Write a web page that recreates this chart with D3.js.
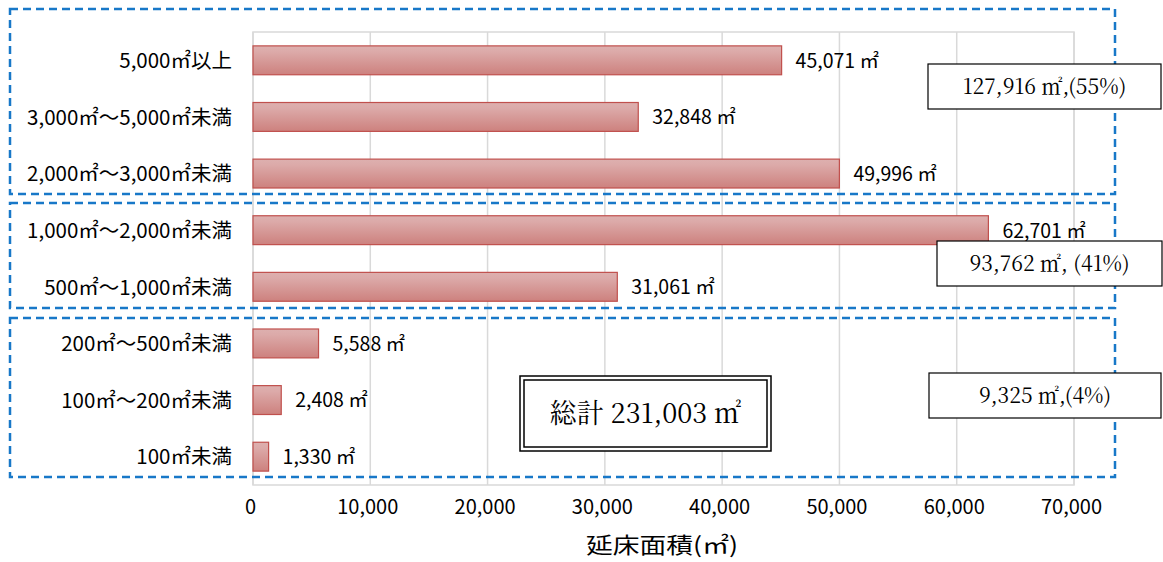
<!DOCTYPE html>
<html>
<head>
<meta charset="utf-8">
<script src="https://cdn.jsdelivr.net/npm/d3@7"></script>
<style>
  html, body { margin: 0; padding: 0; background: #fff; }
  svg { display: block; }
</style>
</head>
<body>
<svg id="chart" width="1163" height="562"></svg>
<script>
// Floor-area categories (largest size class first) and their total floor area in ㎡
const categories = [
  "5,000㎡以上",
  "3,000㎡～5,000㎡未満",
  "2,000㎡～3,000㎡未満",
  "1,000㎡～2,000㎡未満",
  "500㎡～1,000㎡未満",
  "200㎡～500㎡未満",
  "100㎡～200㎡未満",
  "100㎡未満"
];
const values = [45071, 32848, 49996, 62701, 31061, 5588, 2408, 1330];

// Axis ticks
const xTicks = [0, 10000, 20000, 30000, 40000, 50000, 60000, 70000];
const xTitle = "延床面積(㎡)";

// Size-class groups: first / last category index and the subtotal label
const groupFirst = [0, 3, 5];
const groupLast = [2, 4, 7];
const groupLabels = ["127,916 ㎡,(55%)", "93,762 ㎡, (41%)", "9,325 ㎡,(4%)"];
const totalLabel = "総計 231,003 ㎡";

const svg = d3.select("#chart");
const plot = { left: 253, right: 1074, top: 32, bottom: 485 };

const x = d3.scaleLinear().domain([0, 70000]).range([plot.left, plot.right]);
const y = d3.scaleBand().domain(categories).range([plot.top, plot.bottom]).paddingInner(0.49).paddingOuter(0.245);

const sansJP = "'Noto Sans CJK JP', 'Noto Sans', sans-serif";
const serif = "'Noto Serif CJK JP', 'Liberation Serif', serif";

// Bar gradient
const defs = svg.append("defs");
const grad = defs.append("linearGradient").attr("id", "barFill").attr("x1", 0).attr("y1", 0).attr("x2", 0).attr("y2", 1);
grad.append("stop").attr("offset", "0%").attr("stop-color", "#ddb0af");
grad.append("stop").attr("offset", "20%").attr("stop-color", "#dcaaa9");
grad.append("stop").attr("offset", "100%").attr("stop-color", "#cd817e");

// Gridlines and plot frame
const grid = svg.append("g");
grid.selectAll("line.grid").data(xTicks).join("line")
  .attr("x1", d => x(d)).attr("x2", d => x(d))
  .attr("y1", plot.top).attr("y2", plot.bottom)
  .attr("stroke", "#d9d9d9").attr("stroke-width", 1.5);
grid.append("rect")
  .attr("x", plot.left).attr("y", plot.top)
  .attr("width", plot.right - plot.left).attr("height", plot.bottom - plot.top)
  .attr("fill", "none").attr("stroke", "#d9d9d9").attr("stroke-width", 1.5);

// Bars
svg.append("g").selectAll("rect").data(values).join("rect")
  .attr("x", x(0))
  .attr("y", (d, i) => y(categories[i]))
  .attr("width", d => x(d) - x(0))
  .attr("height", y.bandwidth())
  .attr("fill", "url(#barFill)")
  .attr("stroke", "#c0504d").attr("stroke-width", 1.2);

// Value labels
svg.append("g").selectAll("text").data(values).join("text")
  .attr("x", d => x(d) + 14)
  .attr("y", (d, i) => y(categories[i]) + y.bandwidth() / 2)
  .attr("dy", "0.38em")
  .attr("font-family", sansJP).attr("font-size", 19.5).attr("fill", "#000")
  .text(d => d3.format(",")(d) + " ㎡");

// Category labels
svg.append("g").selectAll("text").data(categories).join("text")
  .attr("x", 232)
  .attr("y", d => y(d) + y.bandwidth() / 2)
  .attr("dy", "0.38em")
  .attr("text-anchor", "end")
  .attr("font-family", sansJP).attr("font-size", 20.5).attr("fill", "#000")
  .text(d => d);

// X axis tick labels (no axis line)
const xAxis = d3.axisBottom(x).tickValues(xTicks).tickFormat(d3.format(",")).tickSize(0).tickPadding(0);
const ax = svg.append("g").attr("transform", `translate(-3,${plot.bottom + 15})`).call(xAxis);
ax.select(".domain").remove();
ax.selectAll("text")
  .attr("font-family", sansJP)
  .attr("font-size", 20).attr("fill", "#000");

svg.append("text")
  .attr("x", 662).attr("y", 553)
  .attr("text-anchor", "middle")
  .attr("font-family", sansJP).attr("font-size", 22).attr("font-weight", 400)
  .attr("textLength", 152).attr("lengthAdjust", "spacingAndGlyphs")
  .text(xTitle);

// Dashed group frames
const frameTop = [9, 203, 318];
const frameBottom = [194, 308, 477];
svg.append("g").selectAll("rect").data(groupFirst).join("rect")
  .attr("x", 10)
  .attr("y", (d, i) => frameTop[i])
  .attr("width", 1105)
  .attr("height", (d, i) => frameBottom[i] - frameTop[i])
  .attr("fill", "none")
  .attr("stroke", "#1878c8").attr("stroke-width", 2.5)
  .attr("stroke-dasharray", "8,5");

// Group subtotal boxes
const boxX = [928, 937, 929];
const boxW = [233, 225, 232];
const boxY = [64, 241, 373];
const boxG = svg.append("g").selectAll("g").data(groupLabels).join("g");
boxG.append("rect")
  .attr("x", (d, i) => boxX[i]).attr("y", (d, i) => boxY[i])
  .attr("width", (d, i) => boxW[i]).attr("height", 45)
  .attr("fill", "#fff").attr("stroke", "#000").attr("stroke-width", 1.2);
boxG.append("text")
  .attr("x", (d, i) => boxX[i] + boxW[i] / 2)
  .attr("y", (d, i) => boxY[i] + 23)
  .attr("dy", "0.35em")
  .attr("text-anchor", "middle")
  .attr("font-family", serif).attr("font-size", 21).attr("fill", "#000")
  .text(d => d);

// Grand total box with double border
const tot = svg.append("g");
tot.append("rect").attr("x", 520).attr("y", 376).attr("width", 251).attr("height", 75)
  .attr("fill", "#fff").attr("stroke", "#000").attr("stroke-width", 1.5);
tot.append("rect").attr("x", 524).attr("y", 380).attr("width", 243).attr("height", 67)
  .attr("fill", "none").attr("stroke", "#000").attr("stroke-width", 1.5);
tot.append("text").attr("x", 645.5).attr("y", 414).attr("dy", "0.35em")
  .attr("text-anchor", "middle")
  .attr("font-family", serif).attr("font-size", 27).attr("fill", "#000")
  .text(totalLabel);
</script>
</body>
</html>
